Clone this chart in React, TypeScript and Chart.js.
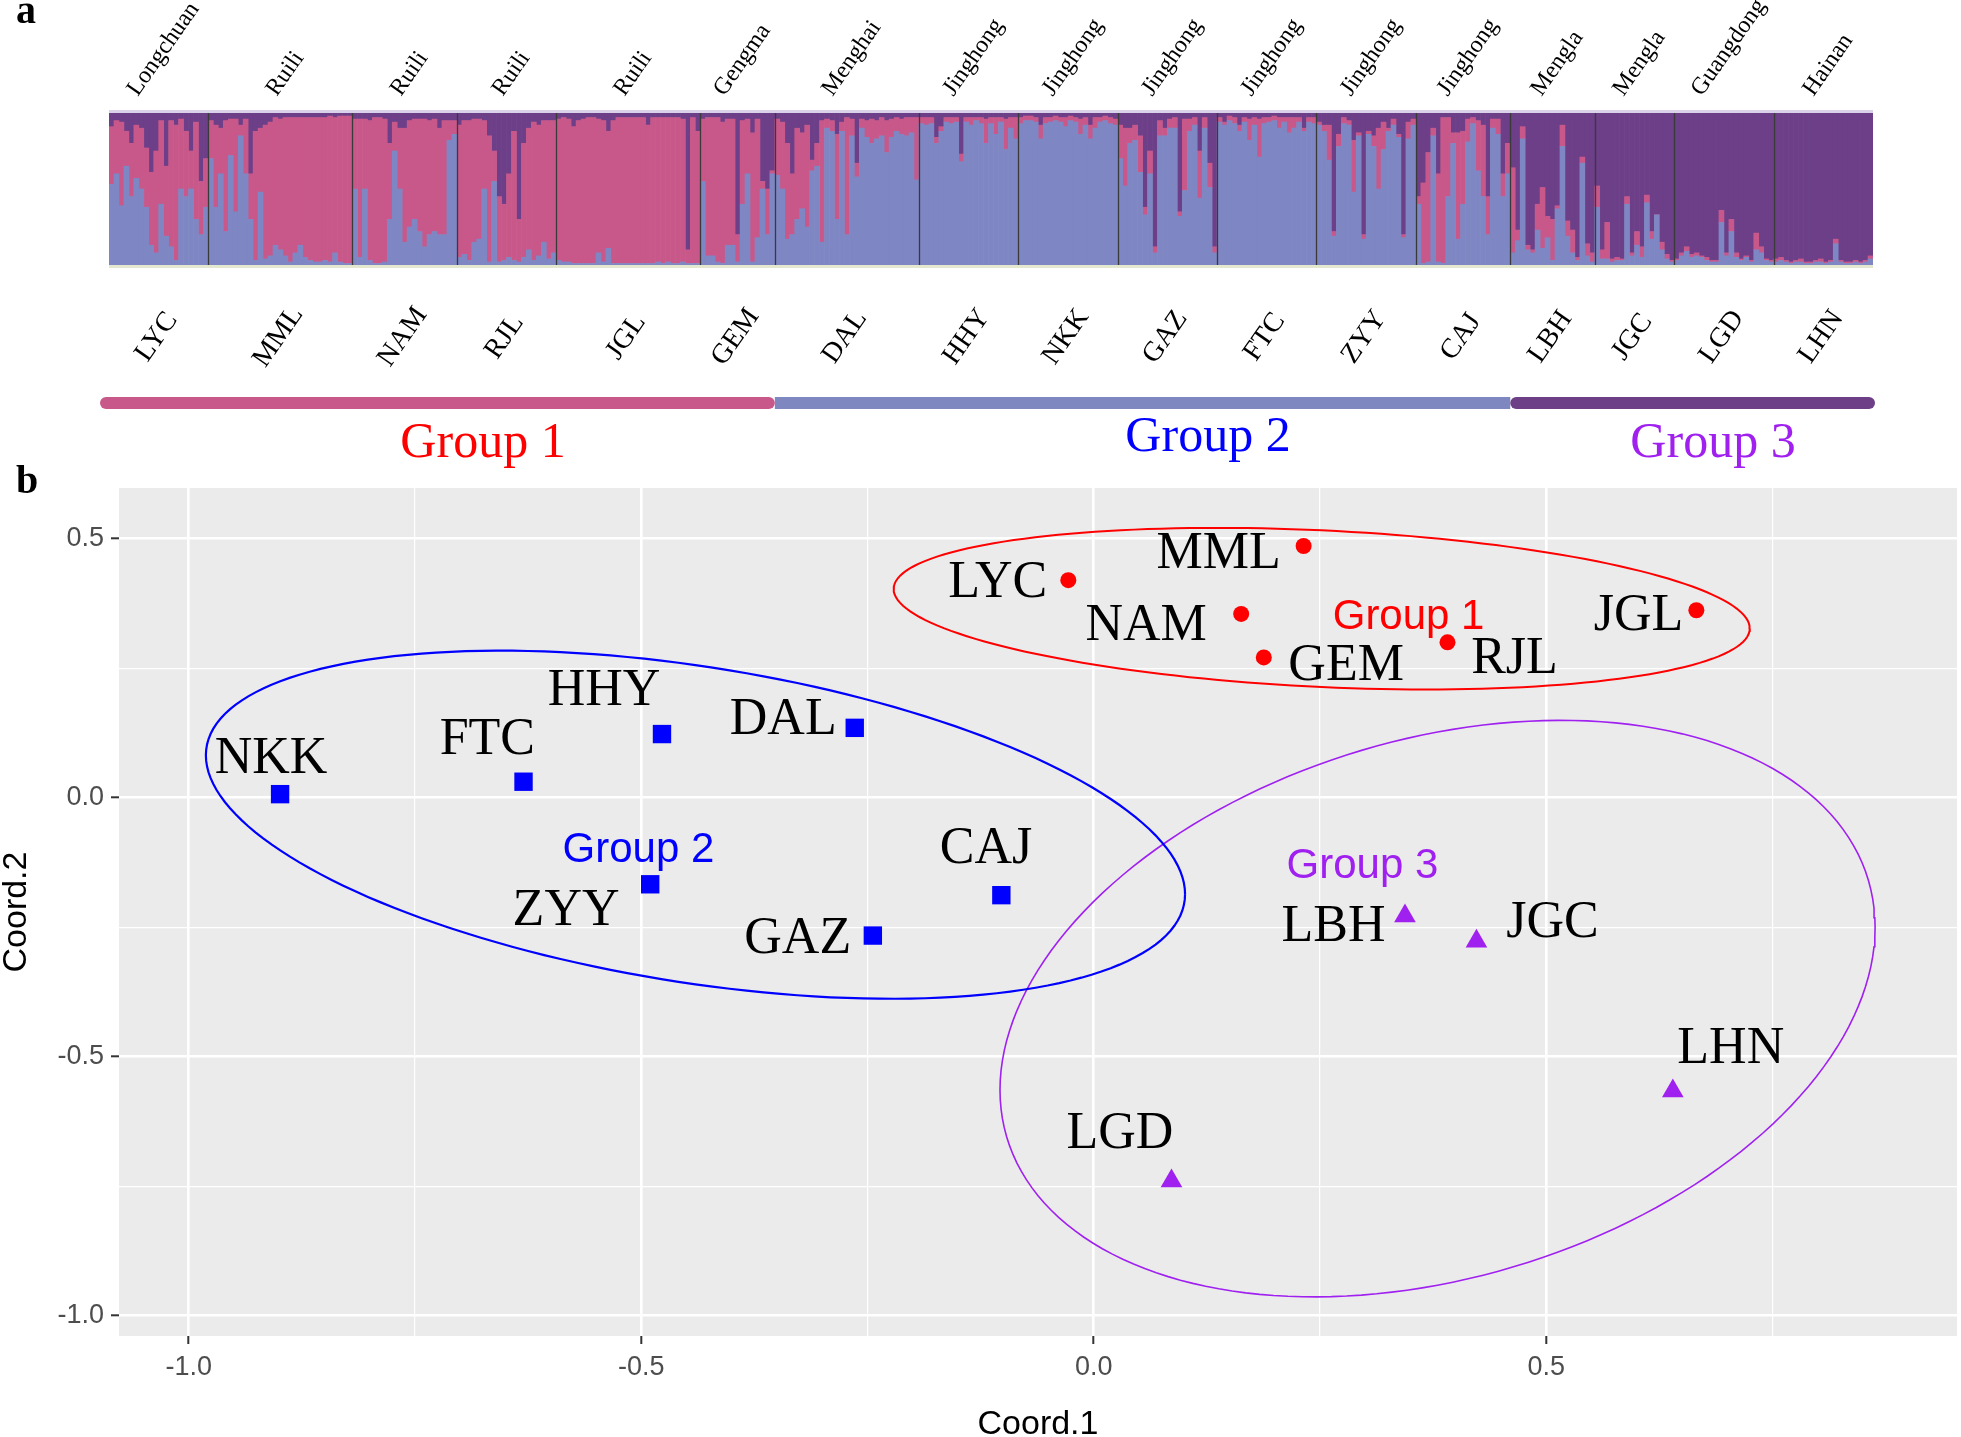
import React, { useEffect, useRef } from 'react';
import { Chart, registerables } from 'chart.js';

Chart.register(...registerables);

// ---------- Panel a: STRUCTURE (K = 3) ----------
const popCodes = ['LYC', 'MML', 'NAM', 'RJL', 'JGL', 'GEM', 'DAL', 'HHY', 'NKK', 'GAZ', 'FTC', 'ZYY', 'CAJ', 'LBH', 'JGC', 'LGD', 'LHN'];
const popPlaces = ['Longchuan', 'Ruili', 'Ruili', 'Ruili', 'Ruili', 'Gengma', 'Menghai', 'Jinghong', 'Jinghong', 'Jinghong', 'Jinghong', 'Jinghong', 'Jinghong', 'Mengla', 'Mengla', 'Guangdong', 'Hainan'];

// ancestry share (%) of the blue cluster, one row per population, one value per (binned) individual
const ancestryBlue: number[][] = [
  [53, 60, 39, 65, 45, 57, 50, 38, 13, 8, 40, 19, 12, 3, 50, 45, 50, 30, 20, 38],
  [70, 38, 60, 22, 72, 35, 85, 60, 30, 3, 48, 4, 6, 13, 10, 6, 2, 8, 13, 5, 3, 2, 2, 3, 2, 8, 2, 1, 1],
  [50, 5, 50, 3, 1, 1, 2, 30, 75, 50, 15, 25, 30, 22, 12, 20, 22, 20, 20, 82, 86],
  [5, 7, 3, 15, 17, 50, 2, 55, 2, 3, 5, 3, 2, 5, 10, 3, 6, 15, 4, 8],
  [3, 2, 2, 1, 1, 1, 1, 1, 8, 2, 11, 1, 1, 1, 1, 1, 1, 1, 1, 1, 2, 1, 2, 1, 1, 2, 1, 1, 1],
  [55, 6, 6, 2, 1, 13, 13, 2, 40, 60, 2, 18, 50, 20, 60],
  [59, 50, 17, 20, 30, 37, 25, 62, 65, 15, 90, 88, 30, 88, 20, 85, 58, 90, 84, 80, 83, 85, 74, 84, 88, 86, 85, 87, 56],
  [93, 92, 93, 80, 88, 94, 93, 94, 68, 94, 92, 95, 93, 80, 93, 86, 94, 76, 90, 83],
  [93, 95, 95, 94, 83, 93, 94, 95, 94, 91, 95, 94, 86, 92, 83, 90, 94, 95, 93, 92],
  [70, 52, 80, 82, 61, 33, 60, 8, 85, 85, 90, 90, 32, 49, 88, 92, 44, 90, 51, 8],
  [94, 92, 95, 93, 88, 94, 82, 92, 71, 93, 94, 95, 90, 94, 87, 90, 94, 88, 94, 93],
  [92, 88, 69, 19, 78, 93, 92, 48, 85, 17, 86, 78, 50, 76, 88, 92, 84, 18, 83, 92],
  [40, 1, 2, 85, 2, 1, 45, 80, 17, 40, 81, 93, 62, 45, 20, 90, 86, 45, 60],
  [8, 16, 83, 10, 8, 23, 11, 18, 3, 37, 78, 19, 8, 3, 67, 6, 2],
  [38, 4, 4, 2, 3, 3, 40, 6, 13, 5, 41, 17, 33, 10, 4, 2],
  [3, 6, 9, 5, 6, 5, 3, 2, 2, 28, 6, 22, 5, 3, 5, 2, 10, 8, 3, 2],
  [2, 3, 2, 1, 2, 2, 1, 1, 2, 2, 1, 2, 14, 2, 1, 1, 2, 1, 2, 4],
];

// ancestry share (%) of the dark purple cluster
const ancestryPurple: number[][] = [
  [9, 5, 6, 12, 20, 8, 10, 23, 39, 25, 5, 35, 5, 8, 4, 12, 25, 6, 45, 30],
  [5, 8, 10, 5, 4, 4, 8, 4, 40, 12, 10, 8, 6, 3, 4, 3, 3, 3, 3, 3, 3, 3, 3, 3, 2, 3, 2, 2, 2],
  [4, 4, 4, 5, 3, 3, 4, 20, 6, 10, 10, 5, 4, 4, 4, 5, 4, 10, 5, 5, 5],
  [8, 5, 5, 4, 4, 5, 15, 25, 55, 60, 40, 12, 70, 20, 10, 6, 8, 5, 5, 5],
  [4, 3, 4, 9, 5, 4, 3, 3, 4, 5, 12, 5, 3, 3, 3, 3, 3, 3, 8, 3, 3, 3, 3, 3, 3, 4, 90, 3, 12],
  [4, 3, 3, 3, 6, 4, 4, 80, 5, 4, 13, 4, 45, 50, 38],
  [4, 6, 20, 40, 10, 13, 8, 31, 20, 5, 4, 5, 14, 6, 3, 4, 33, 4, 5, 4, 5, 3, 5, 4, 3, 4, 3, 3, 3],
  [3, 3, 3, 16, 9, 3, 3, 3, 27, 3, 3, 3, 3, 4, 3, 3, 3, 4, 3, 3],
  [3, 2, 2, 3, 8, 3, 3, 2, 3, 3, 2, 3, 4, 3, 8, 3, 3, 2, 3, 4],
  [8, 10, 10, 8, 15, 62, 25, 88, 5, 10, 4, 3, 65, 4, 4, 3, 25, 3, 33, 88],
  [3, 6, 2, 3, 8, 3, 4, 3, 4, 3, 3, 2, 3, 3, 3, 3, 3, 10, 3, 3],
  [6, 8, 8, 78, 14, 3, 5, 18, 13, 80, 12, 15, 10, 6, 10, 4, 14, 80, 6, 4],
  [55, 46, 26, 10, 40, 3, 3, 13, 13, 12, 4, 3, 5, 8, 55, 4, 4, 40, 20],
  [36, 77, 9, 87, 90, 60, 49, 68, 70, 61, 8, 71, 77, 95, 29, 86, 92],
  [48, 90, 72, 96, 95, 96, 55, 92, 78, 88, 54, 78, 67, 85, 93, 97],
  [96, 92, 88, 93, 92, 94, 95, 97, 97, 64, 92, 70, 92, 96, 94, 97, 79, 88, 96, 97],
  [96, 95, 97, 98, 97, 96, 98, 98, 97, 96, 98, 97, 83, 97, 98, 98, 97, 98, 97, 94],
];

const groupNames = ['Group 1', 'Group 2', 'Group 3'];
const groupFirstPop = [0, 6, 13];

// ---------- Panel b: PCoA ----------
const g1Names = ['LYC', 'MML', 'NAM', 'GEM', 'RJL', 'JGL'];
const g1X = [-0.028, 0.232, 0.163, 0.188, 0.391, 0.666];
const g1Y = [0.420, 0.486, 0.355, 0.271, 0.300, 0.362];
const g1LabelX = [-0.106, 0.138, 0.058, 0.279, 0.465, 0.602];
const g1LabelY = [0.413, 0.469, 0.331, 0.254, 0.268, 0.350];

const g2Names = ['NKK', 'FTC', 'HHY', 'DAL', 'ZYY', 'GAZ', 'CAJ'];
const g2X = [-0.899, -0.630, -0.477, -0.264, -0.490, -0.244, -0.102];
const g2Y = [0.007, 0.031, 0.123, 0.135, -0.167, -0.266, -0.188];
const g2LabelX = [-0.909, -0.670, -0.541, -0.343, -0.583, -0.327, -0.119];
const g2LabelY = [0.075, 0.111, 0.205, 0.150, -0.220, -0.273, -0.099];

const g3Names = ['LBH', 'JGC', 'LHN', 'LGD'];
const g3X = [0.344, 0.423, 0.640, 0.086];
const g3Y = [-0.228, -0.277, -0.566, -0.740];
const g3LabelX = [0.265, 0.507, 0.704, 0.029];
const g3LabelY = [-0.251, -0.242, -0.486, -0.650];

const groupLabelX = [0.348, -0.503, 0.297];
const groupLabelY = [0.348, -0.101, -0.133];

// 95% ellipses: centre, half-width (x), half-height (y), y-offset at the x-extreme
const ellipseCX = [0.252, -0.440, 0.380];
const ellipseCY = [0.365, -0.052, -0.407];
const ellipseHalfW = [0.473, 0.541, 0.4835];
const ellipseHalfH = [0.156, 0.336, 0.5565];
const ellipseTilt = [-0.038, -0.134, 0.157];

const xRange = [-1.077, 0.954];
const yRange = [-1.039, 0.598];

const SERIF = '"Liberation Serif", "Times New Roman", serif';
const SANS = '"Liberation Sans", Arial, Helvetica, sans-serif';
const C_PINK = '#C9588A';
const C_BLUE = '#7E87C3';
const C_PURPLE = '#6C3F88';
const RED = '#FF0000';
const BLUE = '#0000FF';
const VIOLET = '#A020F0';

function ellipsePoints(i: number) {
  const pts: { x: number; y: number }[] = [];
  const n = 180;
  const r = Math.sqrt(ellipseHalfH[i] ** 2 - ellipseTilt[i] ** 2);
  for (let s = 0; s <= n; s++) {
    const t = (2 * Math.PI * s) / n;
    pts.push({
      x: ellipseCX[i] + ellipseHalfW[i] * Math.cos(t),
      y: ellipseCY[i] + ellipseTilt[i] * Math.cos(t) + r * Math.sin(t),
    });
  }
  return pts;
}

export default function App() {
  const refA = useRef<HTMLCanvasElement>(null);
  const refB = useRef<HTMLCanvasElement>(null);

  useEffect(() => {
    // ----- build structure data -----
    const labels: string[] = [];
    const blueData: number[] = [];
    const pinkData: number[] = [];
    const purpleData: number[] = [];
    const popStart: number[] = [];
    const popCount: number[] = [];
    popCodes.forEach((code, i) => {
      popStart.push(labels.length);
      popCount.push(ancestryBlue[i].length);
      ancestryBlue[i].forEach((b, j) => {
        const p = ancestryPurple[i][j];
        labels.push(`${code}-${j + 1}`);
        blueData.push(b);
        purpleData.push(p);
        pinkData.push(Math.max(0, 100 - b - p));
      });
    });

    const structurePlugin = {
      id: 'structureDecor',
      afterDatasetsDraw(chart: any) {
        const ctx = chart.ctx as CanvasRenderingContext2D;
        const area = chart.chartArea;
        const xs = chart.scales.x;
        const n = labels.length;
        const bw = (area.right - area.left) / n;
        const edge = (idx: number) => (idx >= n ? area.right : xs.getPixelForValue(idx) - bw / 2);
        ctx.save();
        // frame bands
        ctx.fillStyle = '#D9D2E8';
        ctx.fillRect(area.left, area.top - 3, area.right - area.left, 3);
        ctx.fillStyle = '#E3E8CF';
        ctx.fillRect(area.left, area.bottom, area.right - area.left, 3);
        // population boundaries
        ctx.strokeStyle = '#3A3A3A';
        ctx.lineWidth = 1.3;
        for (let i = 1; i < popStart.length; i++) {
          const x = Math.round(edge(popStart[i])) + 0.5;
          ctx.beginPath();
          ctx.moveTo(x, area.top);
          ctx.lineTo(x, area.bottom);
          ctx.stroke();
        }
        const ang = (55 * Math.PI) / 180;
        // place names above
        ctx.fillStyle = '#000';
        ctx.font = `24px ${SERIF}`;
        popPlaces.forEach((place, i) => {
          const cx = (xs.getPixelForValue(popStart[i]) + xs.getPixelForValue(popStart[i] + popCount[i] - 1)) / 2;
          const w = ctx.measureText(place).width;
          const sx = cx + 10 - (w / 2) * Math.cos(ang);
          ctx.save();
          ctx.translate(sx, 97);
          ctx.rotate(-ang);
          ctx.textAlign = 'left';
          ctx.textBaseline = 'alphabetic';
          ctx.fillText(place, 0, 0);
          ctx.restore();
        });
        // population codes below
        ctx.font = `28px ${SERIF}`;
        popCodes.forEach((code, i) => {
          const cx = (xs.getPixelForValue(popStart[i]) + xs.getPixelForValue(popStart[i] + popCount[i] - 1)) / 2;
          ctx.save();
          ctx.translate(cx - 2, 337);
          ctx.rotate(-ang);
          ctx.textAlign = 'center';
          ctx.textBaseline = 'middle';
          ctx.fillText(code, 0, 0);
          ctx.restore();
        });
        // group bars
        const gEdges = [area.left - 9, edge(popStart[groupFirstPop[1]]), edge(popStart[groupFirstPop[2]]), area.right + 2];
        const gCols = [C_PINK, '#7F87C0', '#6D3F86'];
        const drawBar = (i: number) => {
          ctx.fillStyle = gCols[i];
          ctx.beginPath();
          (ctx as any).roundRect(gEdges[i], 397, gEdges[i + 1] - gEdges[i], 12, 6);
          ctx.fill();
        };
        ctx.fillStyle = gCols[1];
        ctx.fillRect(gEdges[1], 397, gEdges[2] - gEdges[1], 12);
        drawBar(0);
        drawBar(2);
        // group titles
        ctx.font = `50px ${SERIF}`;
        ctx.textAlign = 'center';
        ctx.textBaseline = 'alphabetic';
        const gx = [483, 1208, 1713];
        const gy = [457, 451, 457];
        const gc = [RED, BLUE, VIOLET];
        groupNames.forEach((g, i) => {
          ctx.fillStyle = gc[i];
          ctx.fillText(g, gx[i], gy[i]);
        });
        // panel letter
        ctx.fillStyle = '#000';
        ctx.font = `bold 40px ${SERIF}`;
        ctx.textAlign = 'left';
        ctx.fillText('a', 16, 23);
        ctx.restore();
      },
    };

    const c1 = new Chart(refA.current as HTMLCanvasElement, {
      type: 'bar',
      data: {
        labels,
        datasets: [
          { label: 'Cluster blue', data: blueData, backgroundColor: C_BLUE, borderWidth: 0, barPercentage: 1, categoryPercentage: 1 },
          { label: 'Cluster pink', data: pinkData, backgroundColor: C_PINK, borderWidth: 0, barPercentage: 1, categoryPercentage: 1 },
          { label: 'Cluster purple', data: purpleData, backgroundColor: C_PURPLE, borderWidth: 0, barPercentage: 1, categoryPercentage: 1 },
        ],
      },
      options: {
        responsive: false,
        animation: false,
        events: [],
        layout: { padding: { left: 109, right: 88, top: 113, bottom: 225 } },
        plugins: { legend: { display: false }, tooltip: { enabled: false } },
        scales: {
          x: { stacked: true, display: false },
          y: { stacked: true, display: false, min: 0, max: 100 },
        },
      },
      plugins: [structurePlugin],
    } as any);

    // ----- PCoA -----
    const isMajor = (v: number) => Math.abs(v * 2 - Math.round(v * 2)) < 1e-6;
    const tickLabel = (v: any) => {
      const num = Number(v);
      if (!isMajor(num)) return '';
      const r = Math.round(num * 2) / 2;
      return (r === 0 ? 0 : r).toFixed(1);
    };

    const pcoaPlugin = {
      id: 'pcoaDecor',
      beforeDraw(chart: any) {
        const ctx = chart.ctx as CanvasRenderingContext2D;
        const a = chart.chartArea;
        ctx.save();
        ctx.fillStyle = '#EBEBEB';
        ctx.fillRect(a.left, a.top, a.right - a.left, a.bottom - a.top);
        ctx.restore();
      },
      afterDatasetsDraw(chart: any) {
        const ctx = chart.ctx as CanvasRenderingContext2D;
        const xs = chart.scales.x;
        const ys = chart.scales.y;
        ctx.save();
        ctx.textAlign = 'center';
        ctx.textBaseline = 'middle';
        ctx.fillStyle = '#000';
        ctx.font = `52px ${SERIF}`;
        const put = (names: string[], lx: number[], ly: number[]) => {
          names.forEach((nm, i) => ctx.fillText(nm, xs.getPixelForValue(lx[i]), ys.getPixelForValue(ly[i])));
        };
        put(g1Names, g1LabelX, g1LabelY);
        put(g2Names, g2LabelX, g2LabelY);
        put(g3Names, g3LabelX, g3LabelY);
        ctx.font = `42px ${SANS}`;
        const gc = [RED, BLUE, VIOLET];
        groupNames.forEach((g, i) => {
          ctx.fillStyle = gc[i];
          ctx.fillText(g, xs.getPixelForValue(groupLabelX[i]), ys.getPixelForValue(groupLabelY[i]));
        });
        ctx.fillStyle = '#000';
        ctx.font = `bold 40px ${SERIF}`;
        ctx.textAlign = 'left';
        ctx.textBaseline = 'alphabetic';
        ctx.fillText('b', 16, 33);
        ctx.restore();
      },
    };

    const pts = (xs: number[], ys: number[]) => xs.map((x, i) => ({ x, y: ys[i] }));
    const ellColors = [RED, BLUE, VIOLET];
    const ellWidths = [2, 2.2, 1.6];

    const c2 = new Chart(refB.current as HTMLCanvasElement, {
      type: 'scatter',
      data: {
        datasets: [
          ...[0, 1, 2].map((i) => ({
            label: `${groupNames[i]} ellipse`,
            data: ellipsePoints(i),
            showLine: true,
            pointRadius: 0,
            borderColor: ellColors[i],
            borderWidth: ellWidths[i],
            tension: 0,
            fill: false,
          })),
          { label: 'Group 1', data: pts(g1X, g1Y), pointStyle: 'circle', pointRadius: 8, backgroundColor: RED, borderWidth: 0 },
          { label: 'Group 2', data: pts(g2X, g2Y), pointStyle: 'rect', pointRadius: 13, backgroundColor: BLUE, borderWidth: 0 },
          { label: 'Group 3', data: pts(g3X, g3Y), pointStyle: 'triangle', pointRadius: 12.5, backgroundColor: VIOLET, borderWidth: 0 },
        ],
      },
      options: {
        responsive: false,
        animation: false,
        events: [],
        layout: { autoPadding: false, padding: { left: 0, right: 4, top: 28, bottom: 0 } },
        plugins: { legend: { display: false }, tooltip: { enabled: false } },
        scales: {
          x: {
            type: 'linear',
            min: xRange[0],
            max: xRange[1],
            border: { display: false },
            grid: {
              color: '#FFFFFF',
              lineWidth: (c: any) => (isMajor(c.tick.value) ? 2.6 : 1.2),
              tickColor: (c: any) => (isMajor(c.tick.value) ? '#333333' : 'rgba(0,0,0,0)'),
              tickLength: 8,
              tickWidth: 2,
            },
            ticks: {
              stepSize: 0.25,
              includeBounds: false,
              autoSkip: false,
              maxRotation: 0,
              padding: 7,
              color: '#4D4D4D',
              font: { family: SANS, size: 27 },
              callback: tickLabel,
            },
            title: { display: true, text: 'Coord.1', color: '#000', font: { family: SANS, size: 34, lineHeight: 1 }, padding: { top: 0, bottom: -5 } },
            afterFit: (s: any) => { s.height = 101; },
          },
          y: {
            type: 'linear',
            min: yRange[0],
            max: yRange[1],
            border: { display: false },
            grid: {
              color: '#FFFFFF',
              lineWidth: (c: any) => (isMajor(c.tick.value) ? 2.6 : 1.2),
              tickColor: (c: any) => (isMajor(c.tick.value) ? '#333333' : 'rgba(0,0,0,0)'),
              tickLength: 8,
              tickWidth: 2,
            },
            ticks: {
              stepSize: 0.25,
              includeBounds: false,
              autoSkip: false,
              padding: 7,
              color: '#4D4D4D',
              font: { family: SANS, size: 27 },
              callback: tickLabel,
            },
            title: { display: true, text: 'Coord.2', color: '#000', font: { family: SANS, size: 34, lineHeight: 1 }, padding: 0 },
            afterFit: (s: any) => { s.width = 119; },
          },
        },
      },
      plugins: [pcoaPlugin],
    } as any);

    return () => {
      c1.destroy();
      c2.destroy();
    };
  }, []);

  return (
    <div style={{ position: 'absolute', left: 0, top: 0, width: 1961, height: 1437, background: '#FFFFFF', overflow: 'hidden' }}>
      <canvas ref={refA} width={1961} height={490} style={{ position: 'absolute', left: 0, top: 0, width: 1961, height: 490 }} />
      <canvas ref={refB} width={1961} height={977} style={{ position: 'absolute', left: 0, top: 460, width: 1961, height: 977 }} />
    </div>
  );
}
